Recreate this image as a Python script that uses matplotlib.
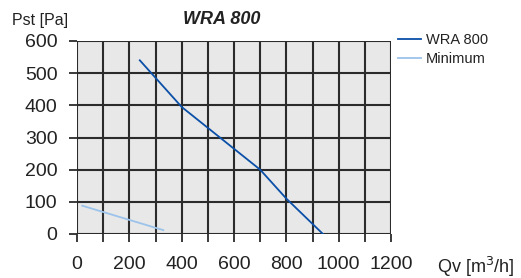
import matplotlib
matplotlib.use("Agg")
import matplotlib.pyplot as plt

plt.rcParams['font.family'] = ['Liberation Sans', 'DejaVu Sans']

# Data
wra_q = [240, 400, 500, 700, 800, 940]
wra_p = [540, 395, 330, 200, 110, 0]
min_q = [20, 330]
min_p = [88, 12]
x_ticks = [0, 200, 400, 600, 800, 1000, 1200]
y_ticks = [0, 100, 200, 300, 400, 500, 600]

fig = plt.figure(figsize=(5.21, 2.78), dpi=100)
W, H = 521, 278
x0, x1, y0, y1 = 77, 391, 41, 234
ax = fig.add_axes([x0 / W, 1 - y1 / H, (x1 - x0) / W, (y1 - y0) / H])
ax.set_facecolor('#e8e8e8')
ax.set_xlim(0, 1200)
ax.set_ylim(0, 600)

for v in range(0, 1201, 100):
    ax.axvline(v, color='#2b2b2b', lw=1.5, zorder=1)
for v in y_ticks:
    ax.axhline(v, color='#2b2b2b', lw=1.5, zorder=1)

l1, = ax.plot(wra_q, wra_p, color='#0a4fa8', lw=1.3, zorder=3, label='WRA 800')
l2, = ax.plot(min_q, min_p, color='#9cc3ea', lw=1.3, zorder=3, label='Minimum')

for s in ax.spines.values():
    s.set_visible(False)

ax.set_xticks(list(range(0, 1201, 100)))
ax.set_xticklabels([str(v) if v % 200 == 0 else '' for v in range(0, 1201, 100)])
ax.set_yticks(y_ticks)
ax.set_yticklabels([str(v) for v in y_ticks])
ax.tick_params(axis='x', length=6, width=1.3, color='#2b2b2b', pad=10, labelsize=14, labelcolor='#222222')
ax.tick_params(axis='y', length=6, width=1.3, color='#2b2b2b', pad=8, labelsize=14, labelcolor='#222222')

fig.text(12 / W, 1 - 20 / H, 'Pst [Pa]', fontsize=11.5, va='center', ha='left', color='#222222')
fig.text(222 / W, 1 - 19 / H, 'WRA 800', fontsize=13, va='center', ha='center',
         fontweight='bold', fontstyle='italic', color='#222222')
fig.text(437 / W, 1 - 267 / H, 'Qv [m$^3$/h]', fontsize=13, va='center', ha='left', color='#222222')

leg = fig.legend(handles=[l1, l2], loc='upper left', bbox_to_anchor=(398 / W, 1 - 33 / H),
                 frameon=False, fontsize=10.5, handlelength=1.6, handletextpad=0.3,
                 labelspacing=0.35, borderaxespad=0, borderpad=0)
for t in leg.get_texts():
    t.set_color('#222222')

fig.savefig('out.png', dpi=100)
